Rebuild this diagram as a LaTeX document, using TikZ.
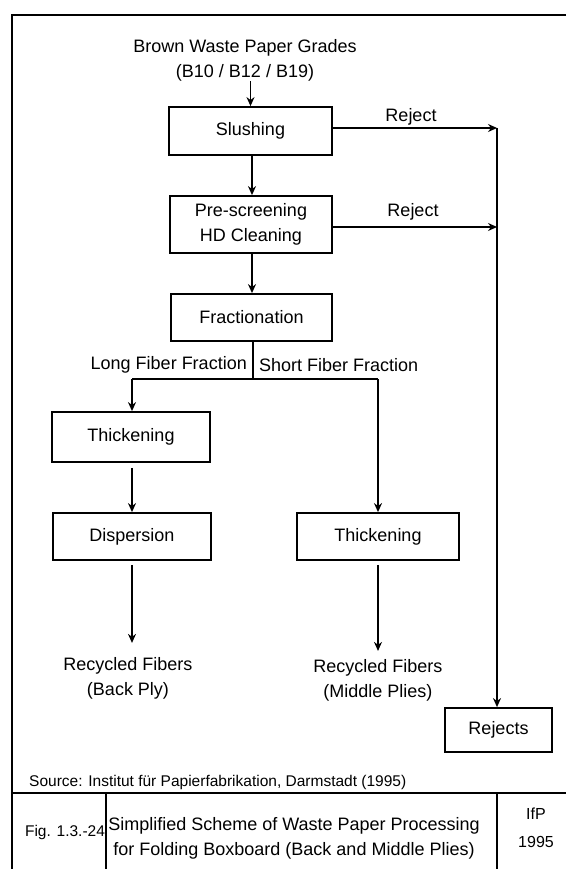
\documentclass[tikz,border=0pt]{standalone}
\usepackage{fontspec}
\setmainfont{Liberation Sans}
\usetikzlibrary{arrows.meta}
\begin{document}
\begin{tikzpicture}[x=1pt,y=-1pt,
  txt/.style={font=\fontsize{18}{25}\selectfont, inner sep=0pt, align=center},
  smalltxt/.style={font=\fontsize{15.5}{22}\selectfont, inner sep=0pt},
  stepbox/.style={draw, line width=1.8pt, minimum height=48pt, minimum width=160pt,
                  inner sep=0pt, font=\fontsize{18}{25}\selectfont, align=center},
  flow/.style={line width=1.3pt, -{Stealth[length=9pt,width=8pt]}},
  plain/.style={line width=1.3pt},
  frame/.style={line width=1.8pt}]
\useasboundingbox (0,0) rectangle (566,869);

% outer frame and caption band
\draw[frame] (566,15) -- (12,15) -- (12,869);
\draw[frame] (12,793) -- (566,793);
\draw[frame] (106,793) -- (106,869);
\draw[frame] (497,793) -- (497,869);

% input
\node[txt] (input) at (245,60) {Brown Waste Paper Grades\\(B10 / B12 / B19)};

% process boxes
\node[stepbox, minimum width=163pt] (slush) at (250.5,131) {Slushing};
\node[stepbox, minimum width=162pt, minimum height=57pt] (pre) at (251,224.5) {Pre-screening\\HD Cleaning};
\node[stepbox, minimum width=161pt, minimum height=47pt] (fract) at (251.5,317.5) {Fractionation};
\node[stepbox, minimum width=158pt, minimum height=50pt] (thickL) at (131,437) {Thickening};
\node[stepbox, minimum width=158pt, minimum height=47pt] (disp) at (132,536.5) {Dispersion};
\node[stepbox, minimum width=162pt, minimum height=47pt] (thickR) at (378,536.5) {Thickening};
\node[stepbox, minimum width=107pt, minimum height=44pt] (rejects) at (498.5,730) {Rejects};

% outputs
\node[txt] (outL) at (128,678) {Recycled Fibers\\(Back Ply)};
\node[txt] (outR) at (378,680) {Recycled Fibers\\(Middle Plies)};

% main line
\draw[flow] (input.south -| slush.north) -- (slush.north);
\draw[flow] ([xshift=1.5pt]slush.south) -- ([xshift=1pt]pre.north);
\draw[flow] ([xshift=1pt]pre.south) -- ([xshift=0.5pt]fract.north);

% fractionation split
\coordinate (split) at (253,379);
\coordinate (splitL) at (132,379);
\coordinate (splitR) at (378,379);
\draw[plain] ([xshift=1.5pt]fract.south) -- (split);
\draw[plain] (splitL) -- (splitR);
\draw[flow] (splitL) -- (splitL |- thickL.north);
\draw[flow] (splitR) -- (splitR |- thickR.north);
\node[txt, anchor=east] (longlbl) at (247,365) {Long Fiber Fraction};
\node[txt, anchor=west] (shortlbl) at (259,365) {Short Fiber Fraction};

\draw[flow, shorten <=5pt] (thickL.south -| splitL) -- (splitL |- disp.north);
\draw[flow, shorten <=4pt, shorten >=14pt] (disp.south -| splitL) -- (splitL |- outL.north);
\draw[flow, shorten <=4pt, shorten >=8pt] (thickR.south) -- (outR.north);

% reject line
\coordinate (r1) at (497,128);
\coordinate (r2) at (497,227);
\draw[flow] (slush.east |- r1) -- (r1);
\draw[flow] (pre.east |- r2) -- (r2);
\draw[flow] (r1) -- (r1 |- rejects.north);
\node[txt] (rej1) at (411,117) {Reject};
\node[txt] (rej2) at (413,212) {Reject};

% source and caption
\node[smalltxt, anchor=west] (source) at (29,782) {Source: Institut für Papierfabrikation, Darmstadt (1995)};
\node[font=\fontsize{15.5}{20}\selectfont, inner sep=0pt] (fignum) at (65,832) {Fig. 1.3.-24};
\node[txt] (title) at (294,838) {Simplified Scheme of Waste Paper Processing\\for Folding Boxboard (Back and Middle Plies)};
\node[font=\fontsize{16}{28}\selectfont, inner sep=0pt, align=center] (ifp) at (536,828) {IfP\\1995};
\end{tikzpicture}
\end{document}
